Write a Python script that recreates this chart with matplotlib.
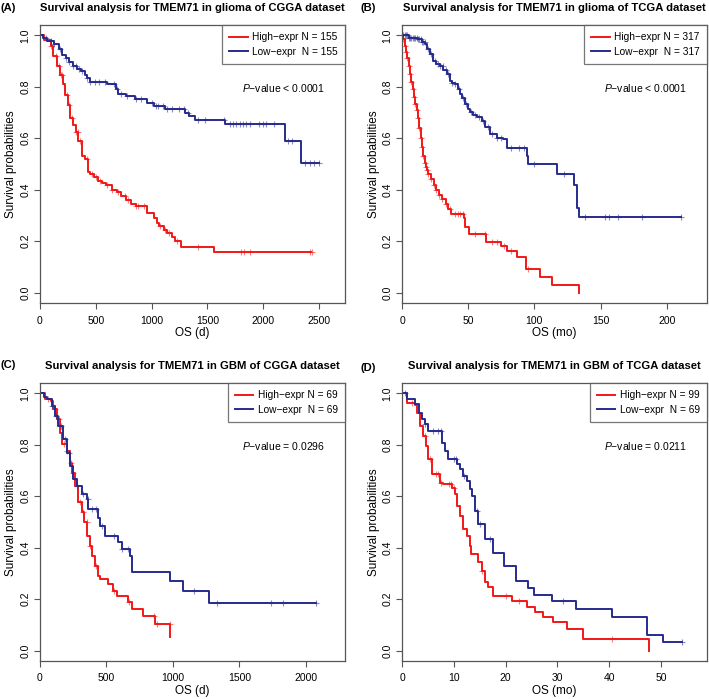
import numpy as np
import matplotlib
matplotlib.use("Agg")
import matplotlib.pyplot as plt

plt.rcParams['font.family'] = ['Liberation Sans', 'DejaVu Sans']
plt.rcParams['mathtext.fontset'] = 'custom'
plt.rcParams['mathtext.rm'] = 'Liberation Sans'
plt.rcParams['mathtext.it'] = 'Liberation Sans:italic'

RED = "#f21818"
BLUE = "#262b8e"

# ---- (A) glioma, CGGA (days)
a_high_t = [0, 40, 100, 120, 150, 180, 210, 225, 250, 270, 300, 320, 345, 375, 400, 435, 450,
            480, 520, 560, 590, 650, 690, 730, 770, 820, 860, 960, 1020, 1045, 1070, 1110,
            1140, 1180, 1210, 1260, 1560]
a_high_s = [1.0, 0.98, 0.96, 0.92, 0.88, 0.845, 0.81, 0.77, 0.73, 0.68, 0.65, 0.625, 0.59, 0.53,
            0.52, 0.47, 0.46, 0.45, 0.435, 0.425, 0.42, 0.40, 0.39, 0.375, 0.36, 0.345, 0.337,
            0.31, 0.29, 0.272, 0.26, 0.245, 0.232, 0.215, 0.20, 0.179, 0.157]
a_high_end = 2432
a_high_cens = [100, 140, 170, 185, 200, 240, 260, 290, 320, 340, 360, 420, 470, 500, 540, 600,
               650, 700, 760, 790, 860, 880, 930, 1080, 1120, 1160, 1230, 1415, 1800, 1830,
               1880, 2420, 2440]
a_low_t = [0, 30, 60, 130, 170, 195, 230, 260, 300, 330, 370, 400, 420, 450, 600, 680, 700,
           770, 850, 960, 1020, 1120, 1300, 1340, 1390, 1660, 2200, 2340]
a_low_s = [1.0, 0.99, 0.977, 0.965, 0.945, 0.925, 0.91, 0.895, 0.88, 0.87, 0.86, 0.845, 0.835,
           0.82, 0.81, 0.79, 0.772, 0.765, 0.752, 0.738, 0.725, 0.713, 0.70, 0.687, 0.672,
           0.656, 0.589, 0.505]
a_low_end = 2500
a_low_cens = [50, 100, 130, 180, 230, 260, 300, 320, 350, 380, 420, 450, 490, 530, 580, 660,
              690, 730, 780, 860, 910, 1000, 1040, 1060, 1100, 1140, 1180, 1250, 1290, 1330,
              1420, 1480, 1650, 1700, 1730, 1760, 1790, 1820, 1850, 1880, 1960, 2000, 2030,
              2100, 2220, 2260, 2380, 2420, 2460, 2500]

# ---- (B) glioma, TCGA (months)
b_high_t = [0, 1, 2, 3, 4, 5, 6, 7, 8, 9, 10, 11, 12, 13, 14, 15, 16, 17, 18, 19, 20, 22, 24,
            26, 28, 30, 33, 35, 37, 46.5, 47.5, 50.5, 63.5, 75, 79, 86.5, 94, 104.5, 113.5, 134]
b_high_s = [1.0, 0.985, 0.96, 0.935, 0.91, 0.88, 0.85, 0.82, 0.79, 0.76, 0.735, 0.71, 0.68,
            0.64, 0.60, 0.565, 0.53, 0.505, 0.49, 0.475, 0.46, 0.44, 0.42, 0.40, 0.38, 0.365,
            0.345, 0.325, 0.305, 0.29, 0.255, 0.227, 0.196, 0.183, 0.163, 0.137, 0.093, 0.061,
            0.03, 0.0]
b_high_end = 134
b_high_cens = [1, 2, 3, 4, 5, 6, 7, 8, 9, 10, 11, 12, 13, 14, 15, 16, 17, 18, 19, 20, 22, 24,
               26, 28, 30, 33, 36, 40, 42, 44, 46, 55, 63, 68, 72, 77, 82, 95]
b_low_t = [0, 5, 12, 15, 17.4, 19, 21.2, 23.7, 26, 28.7, 31.2, 33.8, 36.3, 38, 40, 42, 43.8,
           45.5, 47.6, 49.5, 51.4, 54, 56.4, 60.2, 62.7, 66.5, 71.5, 76.6, 79.1, 94.2, 95.5,
           117, 130, 132, 133.5]
b_low_s = [1.0, 0.99, 0.984, 0.975, 0.966, 0.945, 0.927, 0.901, 0.89, 0.882, 0.865, 0.849,
           0.823, 0.815, 0.81, 0.79, 0.771, 0.755, 0.733, 0.715, 0.701, 0.69, 0.681, 0.668,
           0.642, 0.616, 0.603, 0.597, 0.564, 0.532, 0.50, 0.46, 0.42, 0.33, 0.293]
b_low_end = 211
b_low_cens = [1, 2, 3, 4, 5, 6, 7, 8, 9, 10, 11, 12, 13, 14, 15, 16, 17, 20, 22, 25, 27, 29,
              31, 33, 35, 38, 40, 43, 46, 48, 52, 55, 58, 61, 65, 68, 72, 75, 82, 88, 92, 100,
              122, 138, 153, 156, 163.5, 181, 211]

# ---- (C) GBM, CGGA (days)
c_high_t = [0, 35, 85, 100, 125, 150, 163, 200, 226, 238, 263, 288, 313, 333, 351, 376, 388,
            413, 438, 451, 514, 551, 576, 664, 689, 777, 865, 977]
c_high_s = [1.0, 0.977, 0.97, 0.938, 0.899, 0.847, 0.802, 0.776, 0.731, 0.692, 0.641, 0.576,
            0.537, 0.498, 0.447, 0.408, 0.369, 0.330, 0.291, 0.278, 0.259, 0.233, 0.214, 0.188,
            0.162, 0.133, 0.103, 0.052]
c_high_end = 977
c_high_cens = [60, 110, 140, 180, 200, 230, 250, 300, 320, 350, 380, 420, 560, 670, 860, 880,
               975]
c_low_t = [0, 30, 50, 87, 112, 138, 175, 200, 226, 251, 276, 313, 351, 363, 440, 451, 489, 589,
           614, 677, 689, 977, 1074, 1272]
c_low_s = [1.0, 0.985, 0.977, 0.951, 0.912, 0.873, 0.821, 0.770, 0.718, 0.666, 0.641, 0.608,
           0.589, 0.550, 0.517, 0.485, 0.447, 0.421, 0.395, 0.369, 0.307, 0.272, 0.23, 0.186]
c_low_end = 2080
c_low_cens = [90, 120, 160, 190, 220, 280, 320, 360, 390, 420, 470, 560, 620, 660, 1160, 1330,
              1740, 1830, 2080]

# ---- (D) GBM, TCGA (months)
d_high_t = [0, 0.9, 2.5, 2.8, 3.5, 4.1, 4.6, 5.1, 5.7, 7.3, 8.0, 9.6, 10.2, 10.6, 11.2, 11.8,
            12.5, 13.1, 13.4, 14.7, 15.4, 16.0, 16.7, 17.6, 21.2, 24.1, 25.7, 27.3, 29.2, 31.8,
            34.9, 47.7]
d_high_s = [1.0, 0.961, 0.954, 0.925, 0.873, 0.835, 0.795, 0.744, 0.686, 0.653, 0.647, 0.634,
            0.608, 0.563, 0.524, 0.472, 0.446, 0.408, 0.375, 0.343, 0.311, 0.266, 0.246, 0.214,
            0.194, 0.170, 0.149, 0.129, 0.11, 0.084, 0.045, 0.0]
d_high_end = 47.7
d_high_cens = [2, 4.5, 5.5, 6.5, 7, 7.5, 9, 9.5, 10, 15.5, 20, 22.5, 40.5]
d_low_t = [0, 0.9, 2.5, 3.2, 3.8, 4.4, 5.1, 7.7, 8.3, 8.9, 10.6, 11.2, 11.8, 12.5, 13.1, 13.6,
           14.1, 14.7, 16.0, 17.6, 19.6, 22.0, 24.3, 25.4, 28.9, 33.6, 40.5, 47.4, 50.4]
d_low_s = [1.0, 0.977, 0.958, 0.925, 0.899, 0.880, 0.854, 0.808, 0.776, 0.744, 0.724, 0.705,
           0.679, 0.66, 0.627, 0.601, 0.543, 0.491, 0.433, 0.381, 0.330, 0.272, 0.243, 0.218,
           0.194, 0.162, 0.129, 0.062, 0.032]
d_low_end = 54
d_low_cens = [0.5, 4.5, 6, 7, 7.5, 10, 10.5, 12, 14.5, 15, 17, 31, 54]

panels = [
    dict(tag="(A)", tag_xy=(0.001, 0.9886),
         title="Survival analysis for TMEM71 in glioma of CGGA dataset",
         high=(a_high_t, a_high_s, a_high_end, a_high_cens),
         low=(a_low_t, a_low_s, a_low_end, a_low_cens),
         n=(155, 155), p="< 0.0001", xlabel="OS (d)", xlim=2735, xticks=np.arange(0, 2501, 500),
         rect=[0.0564, 0.5665, 0.4302, 0.3977]),
    dict(tag="(B)", tag_xy=(0.508, 0.9886),
         title="Survival analysis for TMEM71 in glioma of TCGA dataset",
         high=(b_high_t, b_high_s, b_high_end, b_high_cens),
         low=(b_low_t, b_low_s, b_low_end, b_low_cens),
         n=(317, 317), p="< 0.0001", xlabel="OS (mo)", xlim=230.4, xticks=np.arange(0, 201, 50),
         rect=[0.567, 0.5665, 0.4302, 0.3977]),
    dict(tag="(C)", tag_xy=(0.001, 0.4778),
         title="Survival analysis for TMEM71 in GBM of CGGA dataset",
         high=(c_high_t, c_high_s, c_high_end, c_high_cens),
         low=(c_low_t, c_low_s, c_low_end, c_low_cens),
         n=(69, 69), p="= 0.0296", xlabel="OS (d)", xlim=2295, xticks=np.arange(0, 2001, 500),
         rect=[0.0564, 0.0545, 0.4302, 0.3975]),
    dict(tag="(D)", tag_xy=(0.508, 0.4735),
         title="Survival analysis for TMEM71 in GBM of TCGA dataset",
         high=(d_high_t, d_high_s, d_high_end, d_high_cens),
         low=(d_low_t, d_low_s, d_low_end, d_low_cens),
         n=(99, 69), p="= 0.0211", xlabel="OS (mo)", xlim=58.9, xticks=np.arange(0, 51, 10),
         rect=[0.567, 0.0545, 0.4302, 0.3975]),
]


def km_curve(ax, t, s, end, cens, color, label):
    x = list(t) + [end]
    y = list(s) + [s[-1]]
    ax.step(x, y, where="post", color=color, lw=1.4, label=label)
    idx = np.searchsorted(t, cens, side="right") - 1
    ax.plot(cens, np.asarray(s)[idx], ls="none", marker="+", ms=5, mew=0.8,
            color=color, alpha=0.55)


fig = plt.figure(figsize=(7.09, 6.99), dpi=100)

for p in panels:
    ax = fig.add_axes(p["rect"])
    km_curve(ax, *p["high"], RED, "High\u2212expr N = %d" % p["n"][0])
    km_curve(ax, *p["low"], BLUE, "Low\u2212expr  N = %d" % p["n"][1])

    ax.set_xlim(0, p["xlim"])
    ax.set_ylim(-0.04, 1.04)
    ax.set_xticks(p["xticks"])
    ax.set_yticks(np.arange(0, 1.01, 0.2))
    ax.set_yticklabels(["%.1f" % v for v in np.arange(0, 1.01, 0.2)], rotation=90, va="center")
    ax.tick_params(direction="out", length=4, width=0.8, color="#555555", labelsize=7.5)
    ax.tick_params(axis="x", pad=5)
    ax.tick_params(axis="y", pad=3)
    for sp in ax.spines.values():
        sp.set_color("#555555")
        sp.set_linewidth(0.9)
    ax.set_xlabel(p["xlabel"], fontsize=8.5, labelpad=1)
    ax.set_ylabel("Survival probabilities", fontsize=8.5, labelpad=2)

    leg = ax.legend(loc="upper right", borderaxespad=0, fontsize=7.3, fancybox=False,
                    edgecolor="#555555", handlelength=1.8, handletextpad=0.45,
                    borderpad=0.7, labelspacing=0.45)
    leg.get_frame().set_linewidth(0.9)

    ax.text(0.797, 0.775, r"$\mathit{P}$" + "\u2212value " + p["p"], transform=ax.transAxes,
            ha="center", va="center", fontsize=7.5)
    ax.text(0.5, 1.062, p["title"], transform=ax.transAxes, ha="center", va="center",
            fontsize=8.1, fontweight="bold")
    fig.text(p["tag_xy"][0], p["tag_xy"][1], p["tag"], ha="left", va="center",
             fontsize=8.1, fontweight="bold")

fig.savefig("out.png", dpi=100)
